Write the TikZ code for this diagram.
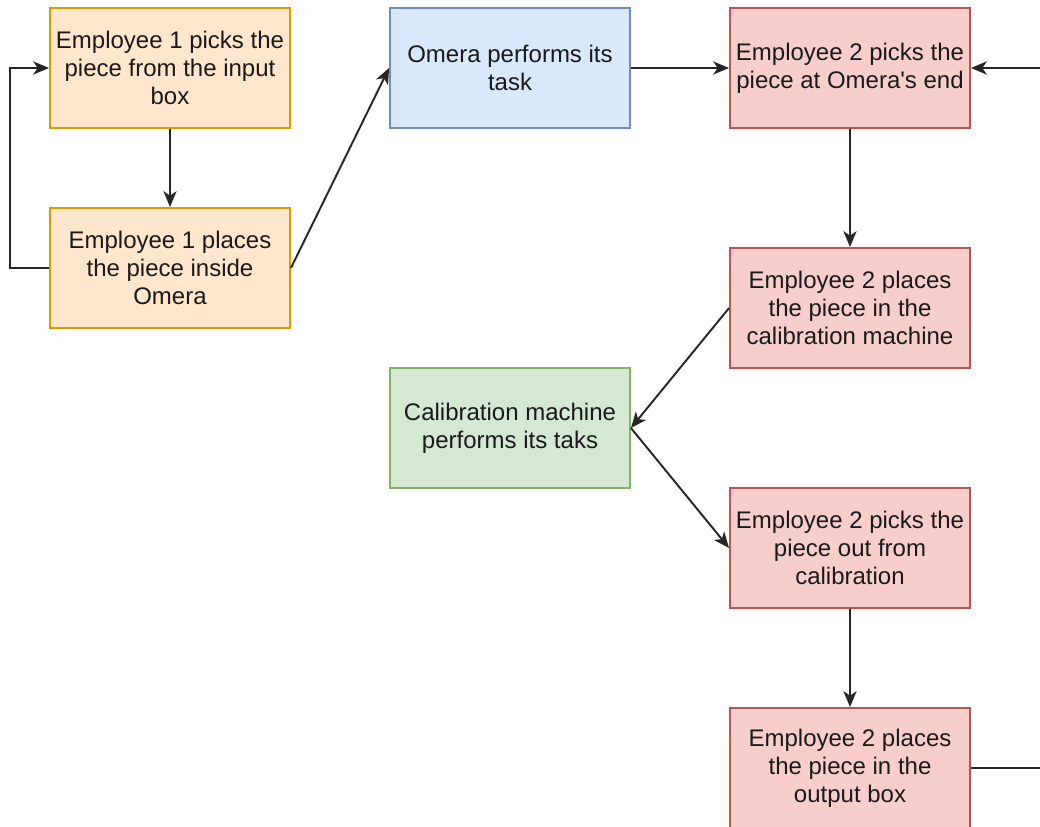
\documentclass[tikz,border=0pt]{standalone}
\usepackage{fontspec}
\setmainfont{Liberation Sans}[Ligatures=TeXOff]
\usetikzlibrary{arrows.meta}
\definecolor{orfill}{HTML}{FFE6CC}\definecolor{ordraw}{HTML}{D79B00}
\definecolor{blfill}{HTML}{DAE8FC}\definecolor{bldraw}{HTML}{6C8EBF}
\definecolor{rdfill}{HTML}{F8CECC}\definecolor{rddraw}{HTML}{B85450}
\definecolor{grfill}{HTML}{D5E8D4}\definecolor{grdraw}{HTML}{82B366}
\tikzset{
  box/.style={rectangle, minimum width=4.8cm, minimum height=2.4cm, inner sep=0pt,
    line width=1.1pt, align=center, font=\fontsize{13.66pt}{15.9pt}\selectfont, text=black!90},
  orbox/.style={box, fill=orfill, draw=ordraw},
  blbox/.style={box, fill=blfill, draw=bldraw},
  rdbox/.style={box, fill=rdfill, draw=rddraw},
  grbox/.style={box, fill=grfill, draw=grdraw},
  conn/.style={line width=1.1pt, draw=black!85},
  arr/.style={conn, -{Stealth[length=9pt, width=7.5pt, inset=2.5pt]}}
}
\begin{document}
\begin{tikzpicture}[x=0.02cm, y=-0.02cm]
\useasboundingbox (0,0) rectangle (1040,827);
\clip (0,0) rectangle (1040,827);
\node[orbox] (A) at (170,68) {Employee 1 picks the\\piece from the input\\box};
\node[orbox] (B) at (170,268) {Employee 1 places\\the piece inside\\Omera};
\node[blbox] (C) at (510,68) {Omera performs its\\task};
\node[rdbox] (D) at (850,68) {Employee 2 picks the\\piece at Omera's end};
\node[rdbox] (E) at (850,308) {Employee 2 places\\the piece in the\\calibration machine};
\node[grbox] (F) at (510,428) {Calibration machine\\performs its taks};
\node[rdbox] (G) at (850,548) {Employee 2 picks the\\piece out from\\calibration};
\node[rdbox] (H) at (850,768) {Employee 2 places\\the piece in the\\output box};
\coordinate (Rin) at (1040,68);
\coordinate (Rout) at (1040,768);
\coordinate (L) at (10,268);
\draw[arr] (A.south) -- (B.north);
\draw[arr] (B.west) -- (L) |- (A.west);
\draw[arr] (B.east) -- (C.west);
\draw[arr] (C.east) -- (D.west);
\draw[arr] (Rin) -- (D.east);
\draw[arr] (D.south) -- (E.north);
\draw[arr] (E.west) -- (F.east);
\draw[arr] (F.east) -- (G.west);
\draw[arr] (G.south) -- (H.north);
\draw[conn] (H.east) -- (Rout);
\end{tikzpicture}
\end{document}
